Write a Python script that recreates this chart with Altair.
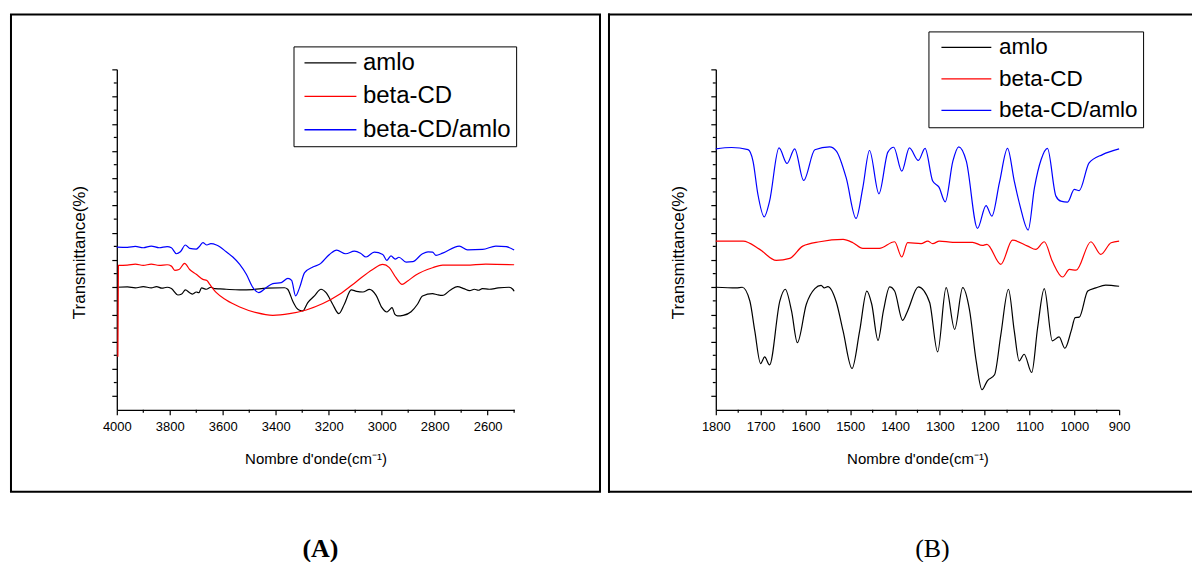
import altair as alt
import pandas as pd

SERIES = ["amlo", "beta-CD", "beta-CD/amlo"]
COLORS = ["#000000", "#ff0000", "#0000ff"]
CAPTIONS = ["(A)", "(B)"]
X_TITLE = "Nombre d'onde(cm⁻¹)"
Y_TITLE = "Transmittance(%)"

A_TICKS = [4000, 3800, 3600, 3400, 3200, 3000, 2800, 2600]
A_MINOR = [3900, 3700, 3500, 3300, 3100, 2900, 2700, 2500]
B_TICKS = [1800, 1700, 1600, 1500, 1400, 1300, 1200, 1100, 1000, 900]
B_MINOR = [1750, 1650, 1550, 1450, 1350, 1250, 1150, 1050, 950]
Y_MAJOR = [1, 3, 5, 7, 9, 11, 13, 15, 17, 19, 21, 23, 25]
Y_MINOR = [2, 4, 6, 8, 10, 12, 14, 16, 18, 20, 22, 24]

# ---------- Panel A (4000-2500 cm-1) ----------
a_amlo_wn = [4000, 3960, 3930, 3900, 3870, 3850, 3830, 3810, 3794, 3769, 3755, 3741, 3725, 3714,
             3700, 3690, 3680, 3662, 3645, 3630, 3610, 3587, 3536, 3486, 3436, 3367, 3355, 3336,
             3320, 3310, 3298, 3279, 3254, 3229, 3210, 3185, 3162, 3141, 3115, 3095, 3071, 3046,
             3021, 2999, 2981, 2970, 2961, 2950, 2940, 2919, 2889, 2865, 2846, 2808, 2790, 2771,
             2740, 2714, 2690, 2668, 2650, 2635, 2620, 2594, 2560, 2519, 2505, 2500]
a_amlo_t = [9.0, 9.02, 8.95, 9.05, 8.95, 9.05, 8.93, 9.0, 8.9, 8.43, 8.5, 8.8, 8.6, 8.5,
            8.65, 8.6, 8.95, 8.85, 9.0, 8.9, 8.88, 8.85, 8.8, 8.83, 8.93, 8.96, 8.85, 7.99,
            7.45, 7.31, 7.26, 7.87, 8.36, 8.85, 8.6, 7.75, 7.06, 7.75, 8.8, 8.7, 8.65, 8.84,
            8.4, 7.5, 7.18, 7.35, 7.5, 7.0, 6.89, 6.93, 7.2, 7.75, 8.36, 8.53, 8.45, 8.4,
            8.8, 9.04, 8.9, 8.75, 8.85, 8.78, 8.9, 8.85, 8.95, 9.0, 8.85, 8.7]

a_bcd_wn = [3996, 3994, 3960, 3930, 3900, 3870, 3840, 3810, 3794, 3781, 3765, 3744, 3725, 3700,
            3675, 3660, 3649, 3624, 3587, 3536, 3473, 3411, 3348, 3285, 3222, 3159, 3096, 3034,
            2996, 2971, 2946, 2923, 2902, 2871, 2808, 2770, 2682, 2607, 2500]
a_bcd_t = [3.9, 10.6, 10.62, 10.7, 10.6, 10.7, 10.6, 10.65, 10.55, 10.24, 10.3, 10.75, 10.3, 9.95,
           9.58, 9.5, 9.21, 8.6, 8.06, 7.55, 7.13, 6.94, 7.06, 7.33, 7.8, 8.48, 9.41, 10.31,
           10.68, 10.44, 9.7, 9.21, 9.46, 9.9, 10.43, 10.63, 10.62, 10.7, 10.65]

a_mix_wn = [4000, 3960, 3930, 3900, 3870, 3840, 3810, 3794, 3775, 3760, 3741, 3725, 3700, 3690,
            3675, 3660, 3645, 3624, 3610, 3587, 3562, 3536, 3511, 3486, 3464, 3436, 3411, 3379,
            3354, 3340, 3325, 3310, 3291, 3260, 3235, 3197, 3170, 3136, 3103, 3080, 3059, 3028,
            2996, 2981, 2965, 2949, 2935, 2908, 2883, 2846, 2825, 2808, 2795, 2770, 2707, 2676,
            2619, 2569, 2530, 2500]
a_mix_t = [11.95, 11.93, 12.0, 11.9, 12.02, 11.9, 11.98, 11.9, 11.46, 11.6, 12.1, 11.85, 11.8, 11.95,
           12.27, 12.1, 12.2, 12.1, 11.95, 11.6, 11.22, 10.68, 9.95, 8.97, 8.6, 8.97, 9.26, 9.34,
           9.65, 9.5, 8.36, 8.97, 10.07, 10.48, 10.68, 11.41, 11.73, 11.46, 11.65, 11.5, 11.22, 11.58,
           11.41, 10.97, 11.3, 11.07, 11.2, 10.85, 10.88, 11.46, 11.6, 11.58, 11.34, 11.5, 12.02, 11.75,
           11.78, 12.02, 11.98, 11.73]

# ---------- Panel B (1800-900 cm-1) ----------
b_amlo_wn = [1800, 1754, 1741, 1724, 1713, 1700, 1691, 1680, 1657, 1645, 1631, 1618, 1598, 1579,
             1565, 1558, 1550, 1531, 1516, 1496, 1479, 1463, 1452, 1438, 1426, 1412, 1401, 1383,
             1372, 1348, 1323, 1305, 1286, 1267, 1249, 1234, 1219, 1206, 1194, 1178, 1164, 1147,
             1134, 1123, 1112, 1095, 1082, 1067, 1049, 1034, 1021, 1007, 998, 989, 970, 952,
             930, 900]
b_amlo_t = [9.0, 8.95, 9.0, 7.99, 5.79, 3.39, 3.88, 3.3, 8.0, 8.85, 7.26, 4.93, 7.75, 8.9,
            9.14, 8.95, 9.05, 7.9, 5.79, 3.03, 5.79, 8.72, 7.75, 5.1, 7.26, 9.02, 8.72, 6.57,
            7.26, 9.02, 7.9, 4.25, 8.97, 5.91, 8.97, 7.36, 3.59, 1.47, 2.13, 2.57, 5.5, 8.85,
            5.79, 3.59, 4.08, 2.74, 5.99, 8.9, 5.06, 5.35, 4.52, 5.79, 6.77, 6.8, 8.72, 8.95,
            9.16, 9.07]

b_bcd_wn = [1800, 1739, 1702, 1665, 1635, 1606, 1568, 1516, 1494, 1472, 1435, 1401, 1385, 1372,
            1342, 1327, 1316, 1301, 1271, 1227, 1205, 1195, 1164, 1138, 1104, 1086, 1067, 1049,
            1026, 1011, 996, 963, 941, 918, 900]
b_bcd_t = [12.39, 12.39, 11.78, 10.97, 11.12, 12.02, 12.34, 12.51, 12.27, 11.85, 11.85, 12.34, 11.22, 12.27,
           12.2, 12.39, 12.2, 12.39, 12.3, 12.3, 12.07, 12.15, 10.68, 12.46, 12.02, 11.78, 12.34, 10.9,
           9.75, 10.31, 10.25, 12.34, 11.41, 12.27, 12.39]

b_mix_wn = [1800, 1765, 1728, 1717, 1706, 1692, 1680, 1659, 1641, 1624, 1604, 1579, 1546, 1531,
            1509, 1487, 1472, 1457, 1436, 1416, 1403, 1385, 1368, 1348, 1333, 1316, 1302, 1288,
            1271, 1258, 1241, 1216, 1197, 1184, 1167, 1149, 1134, 1121, 1103, 1089, 1074, 1060,
            1041, 1030, 1015, 1000, 989, 967, 937, 900]
b_mix_t = [19.16, 19.26, 19.1, 18.26, 15.81, 14.17, 15.32, 19.23, 18.09, 19.16, 16.84, 19.1, 19.31, 19.0,
           17.03, 14.05, 16.3, 19.04, 15.86, 18.92, 19.28, 17.52, 19.23, 18.31, 19.2, 16.8, 16.35, 15.27,
           18.26, 19.31, 18.26, 13.32, 15.0, 14.22, 16.7, 19.2, 16.8, 14.96, 13.2, 16.3, 18.38, 19.2,
           15.69, 15.32, 15.25, 16.18, 16.1, 18.13, 18.74, 19.16]

FONT = "Liberation Sans"
PLOT_H = 341


def make_df(wns, ts):
    frames = []
    for name, wn, t in zip(SERIES, wns, ts):
        frames.append(pd.DataFrame({"wn": wn, "t": t, "s": name}))
    return pd.concat(frames, ignore_index=True)


def panel(df, xdom, xticks, xminor, width, legend_kw, caption, cap_x, cap_bold, frame):
    xs = alt.Scale(domain=xdom, reverse=True, nice=False, zero=False)
    ys = alt.Scale(domain=[0, 25], nice=False, zero=False)
    xa = alt.Axis(values=xticks, format="d", title=X_TITLE, grid=False, tickSize=5,
                  labelPadding=6, labelFlush=False, labelOverlap=False, titleY=54,
                  titleBaseline="alphabetic", titleFontSize=15)
    ya = alt.Axis(values=Y_MAJOR, labels=False, title=Y_TITLE, grid=False, tickSize=5,
                  titleX=-37, titleY=183, titleAngle=270, titleAlign="center",
                  titleBaseline="middle", titleFontSize=17)
    lines = alt.Chart(df).mark_line(strokeWidth=1.2, interpolate="monotone").encode(
        x=alt.X("wn:Q", scale=xs, axis=xa),
        y=alt.Y("t:Q", scale=ys, axis=ya),
        color=alt.Color("s:N", scale=alt.Scale(domain=SERIES, range=COLORS),
                        legend=alt.Legend(**legend_kw)),
    )
    xmin = alt.Chart(pd.DataFrame({"wn": xminor})).mark_rule(color="black", strokeWidth=1.2).encode(
        x=alt.X("wn:Q", scale=xs, axis=xa), y=alt.value(PLOT_H), y2=alt.value(PLOT_H + 3))
    ymin = alt.Chart(pd.DataFrame({"t": Y_MINOR})).mark_rule(color="black", strokeWidth=1.2).encode(
        y=alt.Y("t:Q", scale=ys, axis=ya), x=alt.value(-3), x2=alt.value(0))
    cap = alt.Chart(pd.DataFrame({"c": [caption]})).mark_text(
        font="Liberation Serif", fontSize=26, fontWeight="bold" if cap_bold else "normal",
        align="center", baseline="alphabetic", color="black").encode(
        text="c:N", x=alt.value(cap_x), y=alt.value(488))
    return alt.layer(lines, xmin, ymin, cap, *frame).properties(width=width, height=PLOT_H)


one = pd.DataFrame({"k": [0]})
frame_a = [alt.Chart(one).mark_rect(fillOpacity=0, stroke="black", strokeWidth=2).encode(
    x=alt.value(-106), x2=alt.value(484), y=alt.value(-55), y2=alt.value(423))]
frame_b = [
    alt.Chart(one).mark_rule(color="black", strokeWidth=2, strokeCap="square").encode(
        x=alt.value(-107), x2=alt.value(476), y=alt.value(-55)),
    alt.Chart(one).mark_rule(color="black", strokeWidth=2, strokeCap="square").encode(
        x=alt.value(-107), y=alt.value(-55), y2=alt.value(423)),
    alt.Chart(one).mark_rule(color="black", strokeWidth=2, strokeCap="square").encode(
        x=alt.value(-107), x2=alt.value(476), y=alt.value(423)),
]

leg_common = dict(orient="none", title=None, strokeColor="black", fillColor="white",
                  symbolType="M-4,0H4", symbolStrokeWidth=1.3, labelFont=FONT,
                  labelColor="black", labelLimit=400)
leg_a = dict(leg_common, legendX=177, legendY=-23, labelFontSize=24, padding=4.5,
             rowPadding=9.5, symbolSize=169, symbolOffset=20.5, labelOffset=20.5)
leg_b = dict(leg_common, legendX=213, legendY=-38, labelFontSize=22.5, padding=4.75,
             rowPadding=8.5, symbolSize=156, symbolOffset=22, labelOffset=21.5)

chart_a = panel(make_df([a_amlo_wn, a_bcd_wn, a_mix_wn], [a_amlo_t, a_bcd_t, a_mix_t]),
                [2500, 4000], A_TICKS, A_MINOR, 398, leg_a, CAPTIONS[0], 204, True, frame_a)
chart_b = panel(make_df([b_amlo_wn, b_bcd_wn, b_mix_wn], [b_amlo_t, b_bcd_t, b_mix_t]),
                [900, 1800], B_TICKS, B_MINOR, 404, leg_b, CAPTIONS[1], 217, False, frame_b)

chart = alt.hconcat(chart_a, chart_b, spacing=6).resolve_scale(
    color="independent", x="independent"
).properties(
    padding={"left": 10, "top": 12, "right": 0, "bottom": 0}, background="white"
).configure_view(stroke=None).configure_axis(
    labelFont=FONT, titleFont=FONT, labelFontSize=13, labelColor="black", titleColor="black",
    titleFontWeight="normal", domainColor="black", tickColor="black", domainWidth=1.3,
    tickWidth=1.2
)

chart.save("out.html", embed_options={"renderer": "svg", "actions": False})
